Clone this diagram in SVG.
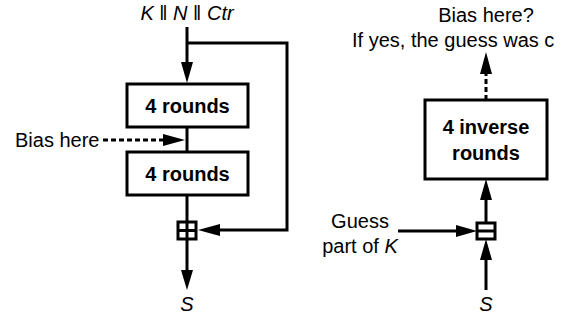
<svg xmlns="http://www.w3.org/2000/svg" width="562" height="317" viewBox="0 0 562 317">
<style>
.t{font-family:"Liberation Sans",Arial,sans-serif;font-size:20px;fill:#000}
.b{font-weight:bold}
.i{font-style:italic}
.box{fill:#fff;stroke:#000;stroke-width:3}
.ln{fill:none;stroke:#000;stroke-width:3}
.dash{fill:none;stroke:#000;stroke-width:3;stroke-dasharray:5 3}
.ah{fill:#000}
</style>
<rect width="562" height="317" fill="#fff"/>
<g id="connectors">
  <path class="ln" d="M187 27 V64"/>
  <polygon class="ah" points="181,62 193,62 187,83"/>
  <path class="ln" d="M187 43 H287 V230 H218"/>
  <polygon class="ah" points="220,224 220,236 198,230"/>
  <path class="ln" d="M187 127 V152"/>
  <path class="dash" d="M103 140 H166"/>
  <polygon class="ah" points="163,134 163,146 185,140"/>
  <path class="ln" d="M187 195 V222"/>
  <path class="ln" d="M187 239 V272"/>
  <polygon class="ah" points="181,270 193,270 187,290"/>
  <path class="dash" d="M486 100 V72"/>
  <polygon class="ah" points="480,74 492,74 486,52"/>
  <path class="ln" d="M486 223 V198"/>
  <polygon class="ah" points="480,200 492,200 486,179"/>
  <path class="ln" d="M486 290 V258"/>
  <polygon class="ah" points="480,260 492,260 486,239"/>
  <path class="ln" d="M398 231 H458"/>
  <polygon class="ah" points="456,225 456,237 477,231"/>
</g>
<g id="input">
  <text class="t" x="187" y="20" text-anchor="middle"><tspan class="i">K</tspan> ‖ <tspan class="i">N</tspan> ‖ <tspan class="i">Ctr</tspan></text>
</g>
<g id="rounds1">
  <rect class="box" x="127" y="84" width="121" height="43"/>
  <text class="t b" x="187.5" y="113" text-anchor="middle">4 rounds</text>
</g>
<g id="bias">
  <text class="t" x="15" y="147">Bias here</text>
</g>
<g id="rounds2">
  <rect class="box" x="127" y="152" width="121" height="43"/>
  <text class="t b" x="187.5" y="181" text-anchor="middle">4 rounds</text>
</g>
<g id="add">
  <rect class="box" x="178" y="222" width="18" height="17" stroke-width="2.5"/>
  <path class="ln" d="M187 222 V239 M178 230.5 H196" stroke-width="2.5"/>
</g>
<g id="outS">
  <text class="t i" x="187" y="311" text-anchor="middle">S</text>
</g>
<g id="question">
  <text class="t" x="486" y="22" text-anchor="middle">Bias here?</text>
  <text class="t" x="352" y="47">If yes, the guess was c</text>
</g>
<g id="inverse">
  <rect class="box" x="425" y="100" width="122" height="79"/>
  <text class="t b" x="486" y="134" text-anchor="middle">4 inverse</text>
  <text class="t b" x="486" y="160" text-anchor="middle">rounds</text>
</g>
<g id="guess">
  <text class="t" x="360" y="228" text-anchor="middle">Guess</text>
  <text class="t" x="360" y="253" text-anchor="middle">part of <tspan class="i">K</tspan></text>
</g>
<g id="sub">
  <rect class="box" x="477" y="223" width="18" height="16" stroke-width="2.5"/>
  <path class="ln" d="M477 231 H495" stroke-width="2.5"/>
</g>
<g id="inS">
  <text class="t i" x="486" y="311" text-anchor="middle">S</text>
</g>
</svg>
